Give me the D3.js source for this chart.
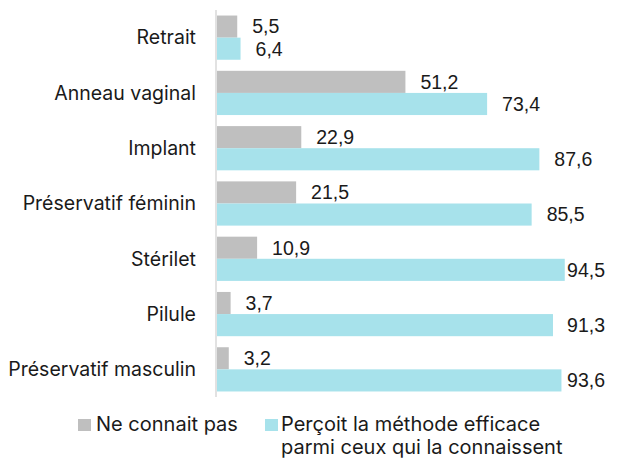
<!DOCTYPE html>
<html>
<head>
<meta charset="utf-8">
<script src="https://cdn.jsdelivr.net/npm/d3@7"></script>
<style>
  body { margin: 0; background: #fff; }
  svg { display: block; }
</style>
</head>
<body>
<div id="chart"></div>
<script>
// categories, top to bottom
var categories = ["Retrait", "Anneau vaginal", "Implant", "Préservatif féminin", "Stérilet", "Pilule", "Préservatif masculin"];
var neConnaitPas = [5.5, 51.2, 22.9, 21.5, 10.9, 3.7, 3.2];
var percoitEfficace = [6.4, 73.4, 87.6, 85.5, 94.5, 91.3, 93.6];
var seriesNames = ["Ne connait pas", "Perçoit la méthode efficace|parmi ceux qui la connaissent"];
var colors = ["#BFBFBF", "#A7E2EB"];

var width = 618, height = 459;
var labelFont = "Inter, 'Noto Sans', sans-serif";
var valueFont = "'Liberation Sans', Arial, sans-serif";

var fr = d3.formatLocale({decimal: ",", thousands: " ", grouping: [3], currency: ["", " €"]});
var fmt = fr.format(".1f");

var svg = d3.select("#chart").append("svg")
    .attr("width", width)
    .attr("height", height);

var x = d3.scaleLinear()
    .domain([0, 100])
    .range([217, 585]);

var y = d3.scaleBand()
    .domain(categories)
    .range([10, 397])
    .paddingInner(0.2)
    .paddingOuter(0.1);

var sub = d3.scaleBand()
    .domain([0, 1])
    .range([0, y.bandwidth()]);

var rows = categories.map(function(c, i) {
  return {cat: c, vals: [neConnaitPas[i], percoitEfficace[i]]};
});

// category labels
svg.append("g").selectAll("text")
  .data(categories)
  .enter().append("text")
    .attr("x", 196)
    .attr("y", function(d) { return y(d) + y.bandwidth() / 2; })
    .attr("dy", "0.35em")
    .attr("text-anchor", "end")
    .style("font-family", labelFont)
    .style("font-size", "19.5px")
    .attr("fill", "#1a1a1a")
    .text(function(d) { return d; });

var groups = svg.append("g").selectAll("g")
  .data(rows)
  .enter().append("g")
    .attr("transform", function(d) { return "translate(0," + y(d.cat) + ")"; });

groups.selectAll("rect")
  .data(function(d) { return d.vals; })
  .enter().append("rect")
    .attr("x", x(0))
    .attr("y", function(d, i) { return sub(i); })
    .attr("width", function(d) { return x(d) - x(0); })
    .attr("height", sub.bandwidth())
    .attr("fill", function(d, i) { return colors[i]; });

// value labels, pushed back inside when they would run past the right edge
groups.selectAll("text")
  .data(function(d) { return d.vals; })
  .enter().append("text")
    .attr("y", function(d, i) { return sub(i) + sub.bandwidth() / 2; })
    .attr("dy", "0.35em")
    .style("font-family", valueFont)
    .style("font-size", "19.5px")
    .attr("fill", "#1a1a1a")
    .text(function(d) { return fmt(d); })
    .attr("x", function(d) {
      var w = this.getComputedTextLength();
      return Math.min(x(d) + 15, 605 - w);
    });

// vertical axis line
svg.append("line")
    .attr("x1", 216).attr("x2", 216)
    .attr("y1", 10).attr("y2", 397)
    .attr("stroke", "#D9D9D9")
    .attr("stroke-width", 1.5);

// legend
var legendX = [78, 265];
var legendTextX = [18, 16];
var legend = svg.append("g").selectAll("g")
  .data(seriesNames)
  .enter().append("g")
    .attr("transform", function(d, i) { return "translate(" + legendX[i] + ",419)"; });

legend.append("rect")
    .attr("width", 13)
    .attr("height", 12)
    .attr("fill", function(d, i) { return colors[i]; });

legend.append("text")
    .attr("y", 12)
    .style("font-family", labelFont)
    .style("font-size", "20px")
    .attr("fill", "#1a1a1a")
    .each(function(d, i) {
      d3.select(this).selectAll("tspan")
        .data(d.split("|"))
        .enter().append("tspan")
          .attr("x", legendTextX[i])
          .attr("dy", function(t, j) { return j === 0 ? 0 : 23; })
          .text(function(t) { return t; });
    });
</script>
</body>
</html>
